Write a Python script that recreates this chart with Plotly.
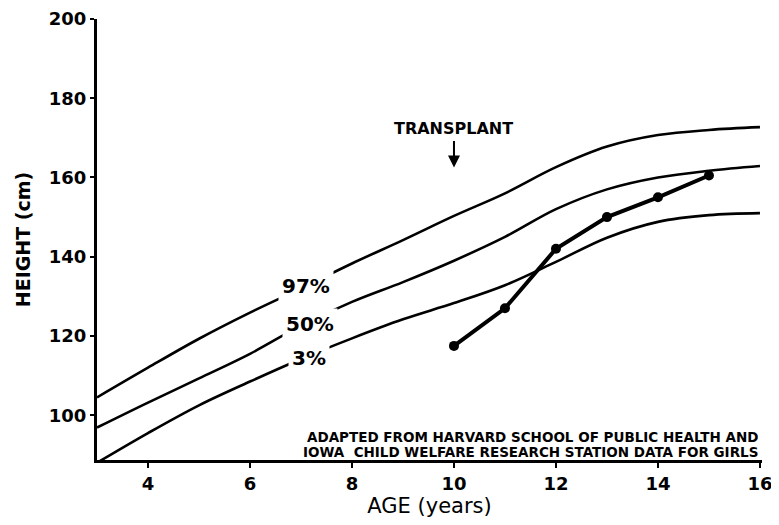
import plotly.graph_objects as go

ages = [3, 4, 5, 6, 7, 8, 9, 10, 11, 12, 13, 14, 15, 16]
p97 = [104.5, 112, 119.3, 125.9, 132, 138.3, 144.2, 150.3, 156, 162.6, 167.8, 170.7, 172, 172.7]
p50 = [96.9, 103.2, 109.3, 115.5, 122.6, 128.6, 133.6, 139, 145, 152, 157, 160, 161.7, 162.9]
p3 = [88, 95.5, 102.5, 108.5, 114.2, 119.4, 124.2, 128.3, 132.8, 138.7, 144.8, 148.8, 150.5, 151]

patient_age = [10, 11, 12, 13, 14, 15]
patient_height = [117.5, 127, 142, 150, 155, 160.5]

x_ticks = [4, 6, 8, 10, 12, 14, 16]
y_ticks = [100, 120, 140, 160, 180, 200]

FONT = "DejaVu Sans"

fig = go.Figure()
for vals in (p97, p50, p3):
    fig.add_trace(go.Scatter(x=ages, y=vals, mode="lines",
                             line=dict(color="black", width=2.6, shape="spline", smoothing=1.0),
                             hoverinfo="skip", showlegend=False))
fig.add_trace(go.Scatter(x=patient_age, y=patient_height, mode="lines+markers",
                         line=dict(color="black", width=4),
                         marker=dict(color="black", size=10),
                         showlegend=False))

ann = []
for txt, x, y in (("97%", 7.1, 132.6), ("50%", 7.18, 123), ("3%", 7.16, 114.5)):
    ann.append(dict(x=x, y=y, text="<b>" + txt + "</b>", showarrow=False, bgcolor="white", borderpad=3,
                    font=dict(family=FONT, size=20, color="black")))
ann.append(dict(x=10, y=172.3, text="<b>TRANSPLANT</b>", showarrow=False,
                font=dict(family=FONT, size=16, color="black")))
ann.append(dict(x=10, y=162.5, text="", showarrow=True, ax=0, ay=-28,
                arrowhead=2, arrowsize=1.2, arrowwidth=2, arrowcolor="black"))
ann.append(dict(x=16, y=94.4, xanchor="right", height=14, text="<b>ADAPTED FROM HARVARD SCHOOL OF PUBLIC HEALTH AND</b>",
                showarrow=False, font=dict(family=FONT, size=13.5, color="black")))
ann.append(dict(x=16, y=90.6, xanchor="right", height=14, text="<b>IOWA  CHILD WELFARE RESEARCH STATION DATA FOR GIRLS</b>",
                showarrow=False, font=dict(family=FONT, size=13.5, color="black")))

fig.update_layout(
    width=771, height=517,
    margin=dict(l=89, r=17, t=11, b=65),
    paper_bgcolor="white", plot_bgcolor="white",
    annotations=ann,
    xaxis=dict(range=[3, 16.04], tickvals=x_ticks, ticktext=["<b>%d</b>" % v for v in x_ticks],
               automargin=False, ticklabeloverflow="allow",
               showline=True, linecolor="black", linewidth=3, showgrid=False, zeroline=False,
               ticks="outside", ticklen=5, tickwidth=2, tickcolor="black",
               tickfont=dict(family=FONT, size=18, color="black"),
               title=dict(text="AGE (years)", font=dict(family=FONT, size=21, color="black"), standoff=0)),
    yaxis=dict(range=[88.7, 200], tickvals=y_ticks, ticktext=["<b>%d</b>" % v for v in y_ticks],
               automargin=False, ticklabeloverflow="allow",
               showline=True, linecolor="black", linewidth=3, showgrid=False, zeroline=False,
               ticks="outside", ticklen=4, tickwidth=2, tickcolor="black",
               tickfont=dict(family=FONT, size=18, color="black"),
               title=dict(text="<b>HEIGHT (cm)</b>", font=dict(family=FONT, size=19, color="black"), standoff=14)),
)

fig.write_html("out.html")
